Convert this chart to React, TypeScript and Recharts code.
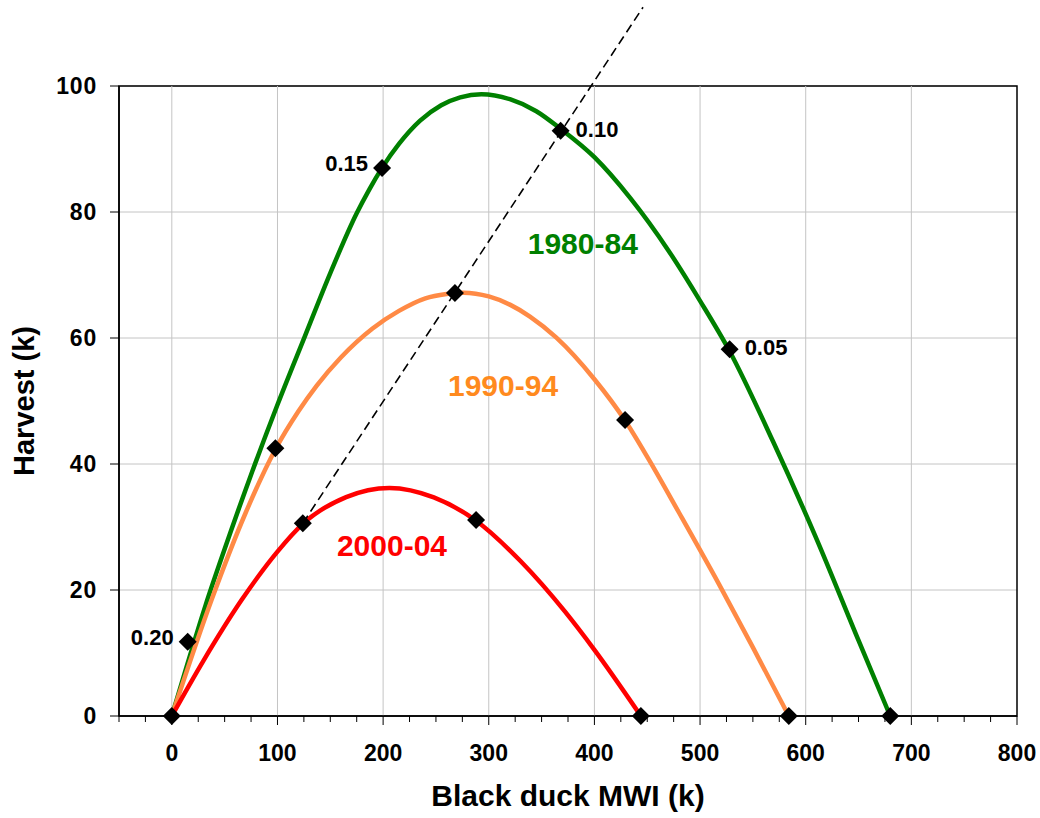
import React from 'react';
import {
  ComposedChart,
  Line,
  Scatter,
  XAxis,
  YAxis,
  CartesianGrid,
  ReferenceLine,
  ReferenceArea,
} from 'recharts';

const FONT = '"Liberation Sans", Arial, Helvetica, sans-serif';

// ---------- axis ticks ----------
const xTicks = [
  -50, -25, 0, 25, 50, 75, 100, 125, 150, 175, 200, 225, 250, 275, 300, 325, 350, 375,
  400, 425, 450, 475, 500, 525, 550, 575, 600, 625, 650, 675, 700, 725, 750, 775, 800,
];
const xMajor = [0, 100, 200, 300, 400, 500, 600, 700, 800];
const xGrid = [0, 100, 200, 300, 400, 500, 600, 700];
const yTicks = [0, 20, 40, 60, 80, 100];

// ---------- curves (Black duck MWI (k) vs Harvest (k)) ----------
const curve1980 = [
  { x: 0, y: 0 },
  { x: 15, y: 8.4 },
  { x: 32, y: 17.6 },
  { x: 50, y: 26.5 },
  { x: 75, y: 38.3 },
  { x: 100, y: 49.4 },
  { x: 126, y: 60.3 },
  { x: 150, y: 70.3 },
  { x: 175, y: 79.8 },
  { x: 187, y: 83.6 },
  { x: 199, y: 87 },
  { x: 215, y: 90.8 },
  { x: 235, y: 94.5 },
  { x: 255, y: 96.95 },
  { x: 273, y: 98.2 },
  { x: 293, y: 98.7 },
  { x: 320, y: 97.9 },
  { x: 345, y: 96.0 },
  { x: 368, y: 93.2 },
  { x: 400, y: 88.7 },
  { x: 434, y: 82.2 },
  { x: 470, y: 73.9 },
  { x: 500, y: 65.9 },
  { x: 528, y: 57.9 },
  { x: 569, y: 43.6 },
  { x: 609, y: 28.6 },
  { x: 650, y: 12.0 },
  { x: 680, y: 0 },
];

const curve1990 = [
  { x: 0, y: 0 },
  { x: 38, y: 18.6 },
  { x: 70, y: 32.3 },
  { x: 98, y: 42.3 },
  { x: 120, y: 48.4 },
  { x: 137, y: 52.4 },
  { x: 160, y: 56.9 },
  { x: 190, y: 61.5 },
  { x: 215, y: 64.3 },
  { x: 240, y: 66.3 },
  { x: 260, y: 67.0 },
  { x: 268, y: 67.15 },
  { x: 276, y: 67.2 },
  { x: 300, y: 66.6 },
  { x: 320, y: 65.3 },
  { x: 339, y: 63.4 },
  { x: 364, y: 60.05 },
  { x: 400, y: 53.45 },
  { x: 429, y: 46.9 },
  { x: 451, y: 40.85 },
  { x: 480, y: 32.3 },
  { x: 518, y: 20.9 },
  { x: 550, y: 10.9 },
  { x: 584, y: 0 },
];

const curve2000 = [
  { x: 0, y: 0 },
  { x: 30, y: 8.8 },
  { x: 66, y: 18.4 },
  { x: 100, y: 26.1 },
  { x: 124, y: 30.5 },
  { x: 165, y: 34.75 },
  { x: 206, y: 36.2 },
  { x: 248, y: 34.7 },
  { x: 288, y: 31.0 },
  { x: 330, y: 24.6 },
  { x: 372, y: 16.6 },
  { x: 400, y: 10.5 },
  { x: 444, y: 0 },
];

// ---------- diamond markers ----------
const markers = [
  { x: 0, y: 0 },
  { x: 15, y: 11.8 },
  { x: 199, y: 87 },
  { x: 368, y: 92.9 },
  { x: 528, y: 58.2 },
  { x: 680, y: 0 },
  { x: 98, y: 42.5 },
  { x: 268, y: 67.15 },
  { x: 429, y: 47.0 },
  { x: 584, y: 0 },
  { x: 124, y: 30.6 },
  { x: 288, y: 31.1 },
  { x: 444, y: 0 },
];

// harvest-rate labels
const rateLabelsLeft = [
  { x: 15, y: 11.8, label: '0.20' },
  { x: 199, y: 87, label: '0.15' },
];
const rateLabelsRight = [
  { x: 368, y: 92.9, label: '0.10' },
  { x: 528, y: 58.2, label: '0.05' },
];

// period labels
const periodTags = [
  { x: 389, y: 75.1, label: '1980-84' },
  { x: 313.5, y: 52.6, label: '1990-94' },
  { x: 208.4, y: 27.2, label: '2000-04' },
];
const periodColors: Record<string, string> = {
  '1980-84': '#008000',
  '1990-94': '#FF8A1E',
  '2000-04': '#FF0000',
};

// dashed line end points
const dashedLine = [
  { x: 124, y: 30.6 },
  { x: 446, y: 112.5 },
];

const XTick = (props: any) => {
  const { x, y, payload } = props;
  const v = payload.value;
  const major = xMajor.includes(v);
  return (
    <g>
      <line x1={x} x2={x} y1={y} y2={y + (major ? 9 : 6)} stroke="#000" strokeWidth={1} />
      {major && (
        <text
          x={x}
          y={y + 45}
          textAnchor="middle"
          fontFamily={FONT}
          fontWeight="bold"
          fontSize={23}
          fill="#000"
        >
          {v}
        </text>
      )}
    </g>
  );
};

const YTick = (props: any) => {
  const { x, y, payload } = props;
  return (
    <text
      x={x}
      y={y + 8}
      textAnchor="end"
      fontFamily={FONT}
      fontWeight="bold"
      fontSize={23}
      letterSpacing={0.8}
      fill="#000"
    >
      {payload.value}
    </text>
  );
};

const Diamond = (props: any) => {
  const { cx, cy } = props;
  const r = 9;
  return (
    <polygon
      points={`${cx},${cy - r} ${cx + r},${cy} ${cx},${cy + r} ${cx - r},${cy}`}
      fill="#000"
    />
  );
};

const RateLeft = (props: any) => {
  const { cx, cy, payload } = props;
  return (
    <text
      x={cx - 14}
      y={cy + 3}
      textAnchor="end"
      fontFamily={FONT}
      fontWeight="bold"
      fontSize={22}
      fill="#000"
    >
      {payload.label}
    </text>
  );
};

const RateRight = (props: any) => {
  const { cx, cy, payload } = props;
  return (
    <text
      x={cx + 15}
      y={cy + 6}
      textAnchor="start"
      fontFamily={FONT}
      fontWeight="bold"
      fontSize={22}
      fill="#000"
    >
      {payload.label}
    </text>
  );
};

const PeriodTag = (props: any) => {
  const { cx, cy, payload } = props;
  return (
    <text
      x={cx}
      y={cy + 11}
      textAnchor="middle"
      fontFamily={FONT}
      fontWeight="bold"
      fontSize={30}
      fill={periodColors[payload.label]}
    >
      {payload.label}
    </text>
  );
};

export default function App() {
  return (
    <div style={{ width: 1040, height: 818 }}>
      <style>{'html,body{margin:0;padding:0;overflow:hidden;}'}</style>
      <ComposedChart
        width={1040}
        height={818}
        margin={{ top: 86, right: 23, bottom: 0, left: 19 }}
      >
        <CartesianGrid vertical={false} stroke="#c4c4c4" strokeWidth={1} />
        {xGrid.map((v) => (
          <ReferenceLine key={v} x={v} stroke="#c4c4c4" strokeWidth={1} />
        ))}
        <XAxis
          type="number"
          dataKey="x"
          domain={[-50, 800]}
          ticks={xTicks}
          interval={0}
          tick={<XTick />}
          tickLine={false}
          tickSize={0}
          tickMargin={0}
          axisLine={{ stroke: '#000', strokeWidth: 1.5 }}
          height={102}
          label={{
            value: 'Black duck MWI (k)',
            position: 'insideBottom',
            offset: 12,
            style: { fontFamily: FONT, fontWeight: 'bold', fontSize: 30, fill: '#000' },
          }}
        />
        <YAxis
          type="number"
          domain={[0, 100]}
          ticks={yTicks}
          interval={0}
          width={100}
          tick={<YTick />}
          tickSize={9}
          tickMargin={13}
          tickLine={{ stroke: '#000' }}
          axisLine={{ stroke: '#000', strokeWidth: 1.5 }}
          label={{
            value: 'Harvest (k)',
            angle: -90,
            position: 'insideLeft',
            offset: 5,
            style: {
              fontFamily: FONT,
              fontWeight: 'bold',
              fontSize: 29,
              fill: '#000',
              textAnchor: 'middle',
            },
          }}
        />
        <ReferenceArea x1={-50} x2={800} y1={0} y2={100} fill="none" stroke="#000" strokeWidth={1.5} />
        <Line
          data={curve1980}
          dataKey="y"
          type="monotone"
          stroke="#008000"
          strokeWidth={4.5}
          dot={false}
          activeDot={false}
          isAnimationActive={false}
        />
        <Line
          data={curve1990}
          dataKey="y"
          type="monotone"
          stroke="#FF8A45"
          strokeWidth={4.5}
          dot={false}
          activeDot={false}
          isAnimationActive={false}
        />
        <Line
          data={curve2000}
          dataKey="y"
          type="monotone"
          stroke="#FF0000"
          strokeWidth={4.5}
          dot={false}
          activeDot={false}
          isAnimationActive={false}
        />
        <ReferenceLine
          segment={dashedLine}
          stroke="#000"
          strokeWidth={1.6}
          strokeDasharray="9 5"
          ifOverflow="visible"
        />
        <Scatter data={markers} dataKey="y" shape={<Diamond />} isAnimationActive={false} />
        <Scatter data={rateLabelsLeft} dataKey="y" shape={<RateLeft />} isAnimationActive={false} />
        <Scatter data={rateLabelsRight} dataKey="y" shape={<RateRight />} isAnimationActive={false} />
        <Scatter data={periodTags} dataKey="y" shape={<PeriodTag />} isAnimationActive={false} />
      </ComposedChart>
    </div>
  );
}
